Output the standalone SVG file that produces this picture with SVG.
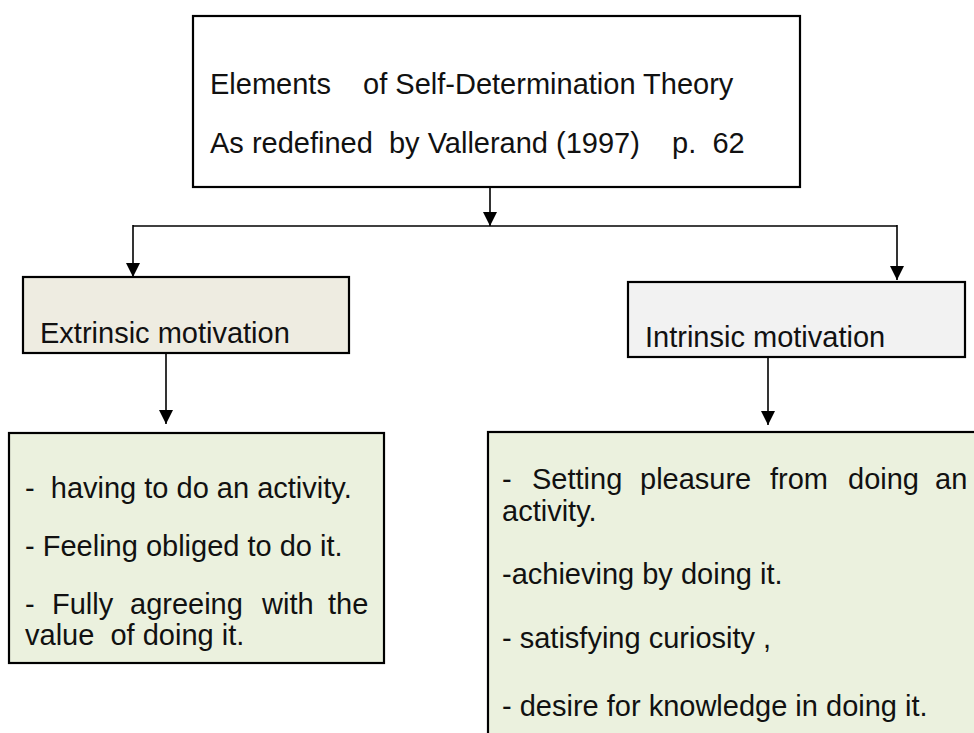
<svg xmlns="http://www.w3.org/2000/svg" width="974" height="733" viewBox="0 0 974 733">
<style>
.box{stroke:#000;stroke-width:2.2}
.t{font-family:"Liberation Sans",Arial,sans-serif;font-size:29px;fill:#111;white-space:pre}
.c{stroke:#000;stroke-width:1.6;fill:none}
</style>
<defs>
<marker id="ah" markerUnits="userSpaceOnUse" markerWidth="14" markerHeight="15" refX="14" refY="7" orient="auto">
<path d="M0,0 L14,7 L0,14 z" fill="#000"/>
</marker>
</defs>
<rect width="974" height="733" fill="#fff"/>
<g id="connectors">
<line class="c" x1="490" y1="188" x2="490" y2="226" marker-end="url(#ah)"/>
<line class="c" x1="133" y1="226" x2="897" y2="226" stroke="#333"/>
<line class="c" x1="133" y1="225" x2="133" y2="277" marker-end="url(#ah)"/>
<line class="c" x1="897" y1="225" x2="897" y2="280" marker-end="url(#ah)"/>
<line class="c" x1="166" y1="354" x2="166" y2="424" marker-end="url(#ah)"/>
<line class="c" x1="768" y1="358" x2="768" y2="425" marker-end="url(#ah)"/>
</g>
<g id="top">
<rect class="box" x="193" y="16" width="607" height="171" fill="#fff"/>
<text class="t" x="210" y="94">Elements    of Self-Determination Theory</text>
<text class="t" x="210" y="153">As redefined  by Vallerand (1997)    p.  62</text>
</g>
<g id="extrinsic">
<rect class="box" x="23" y="277" width="326" height="76" fill="#EEECE1"/>
<text class="t" x="40" y="343">Extrinsic motivation</text>
</g>
<g id="intrinsic">
<rect class="box" x="628" y="282" width="337" height="75" fill="#F2F2F2"/>
<text class="t" x="645" y="347">Intrinsic motivation</text>
</g>
<g id="extrinsic-details">
<rect class="box" x="9" y="433" width="375" height="230" fill="#EBF1DE"/>
<text class="t" x="25" y="498">-  having to do an activity.</text>
<text class="t" x="25" y="556">- Feeling obliged to do it.</text>
<text class="t" y="614"><tspan x="25">-</tspan><tspan x="52">Fully</tspan><tspan x="130">agreeing</tspan><tspan x="262">with</tspan><tspan x="328">the</tspan></text>
<text class="t" x="25" y="645">value  of doing it.</text>
</g>
<g id="intrinsic-details">
<rect class="box" x="488" y="432" width="500" height="320" fill="#EBF1DE"/>
<text class="t" y="489"><tspan x="502">-</tspan><tspan x="532">Setting</tspan><tspan x="640">pleasure</tspan><tspan x="770">from</tspan><tspan x="848">doing</tspan><tspan x="935">an</tspan></text>
<text class="t" x="502" y="521">activity.</text>
<text class="t" x="502" y="584">-achieving by doing it.</text>
<text class="t" x="502" y="648">- satisfying curiosity ,</text>
<text class="t" x="502" y="716">- desire for knowledge in doing it.</text>
</g>
</svg>
